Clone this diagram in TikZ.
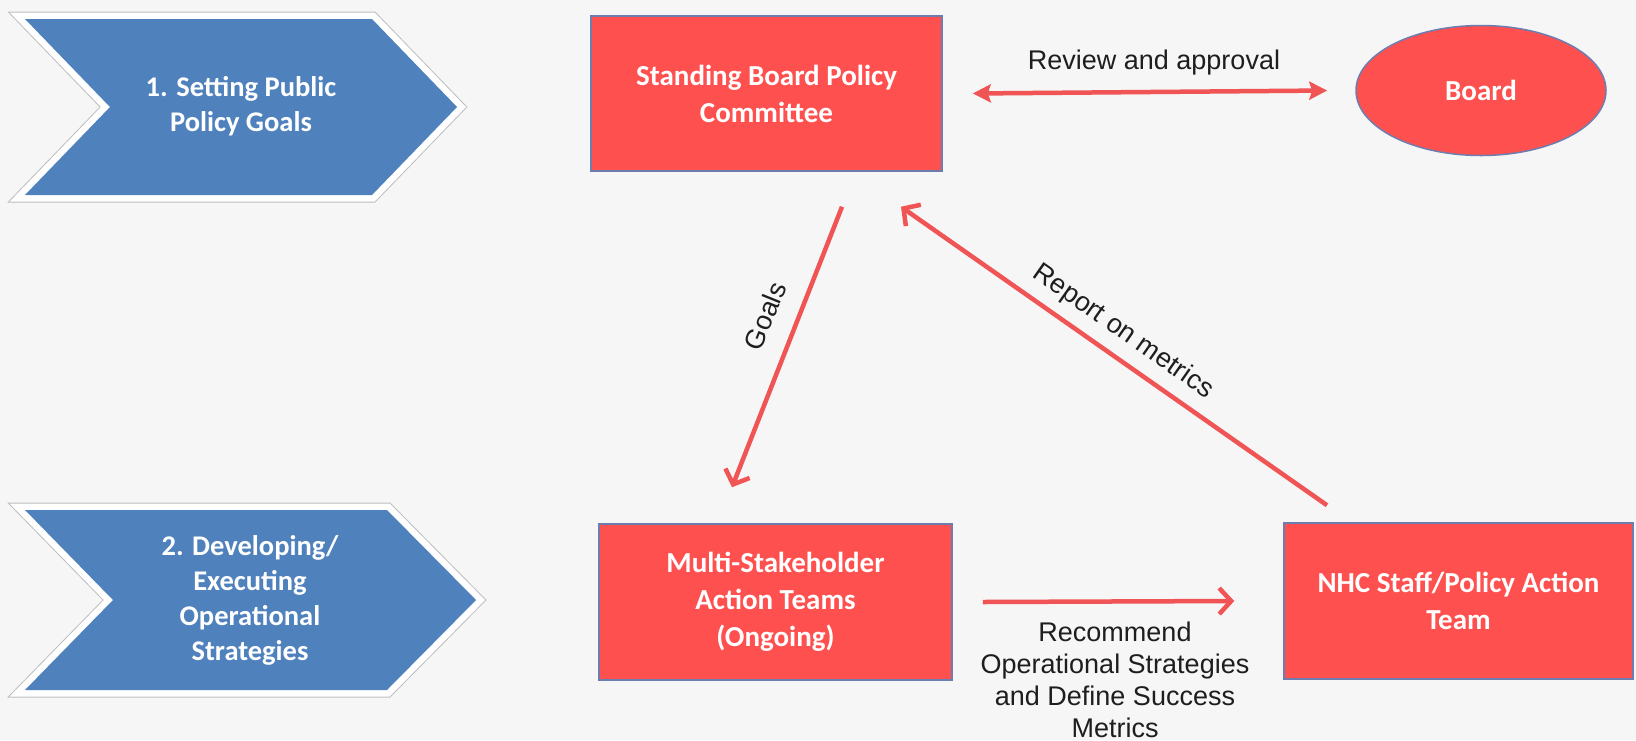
\documentclass[tikz,border=0pt]{standalone}
\usepackage{fontspec}
\setmainfont{Liberation Sans}
\newfontfamily\boxfont{Carlito}
\usetikzlibrary{arrows.meta,shapes.geometric}
\definecolor{bg}{RGB}{246,246,246}
\definecolor{chevblue}{RGB}{79,129,189}
\definecolor{boxred}{RGB}{255,80,80}
\definecolor{boxline}{RGB}{110,125,175}
\definecolor{arrowred}{RGB}{240,84,84}
\definecolor{labelgray}{RGB}{30,30,30}
\definecolor{chevrim}{RGB}{190,190,190}
\begin{document}
\begin{tikzpicture}[x=1pt,y=-1pt,
  redbox/.style={rectangle, fill=boxred, draw=boxline, line width=1.5pt, text=white, align=center, inner sep=0pt, font=\boxfont\bfseries\fontsize{29}{37}\selectfont},
  chevtext/.style={text=white, align=center, font=\boxfont\bfseries\fontsize{28.5}{35}\selectfont},
  lbl/.style={text=labelgray, align=center, font=\fontsize{27}{32}\selectfont},
  conn/.style={draw=arrowred, line width=4.5pt},
  barb/.style={conn, -{Straight Barb[length=12pt,width=26pt,line width=4.5pt]}},
  twoway/.style={conn, {Stealth[length=18pt,width=18pt,inset=3pt]}-{Stealth[length=18pt,width=18pt,inset=3pt]}},
  chevrimouter/.style={draw=chevrim, line width=15pt, line join=miter},
  chevriminner/.style={draw=white, line width=13pt, line join=miter},
  chevfill/.style={fill=chevblue}
]
\useasboundingbox (0,0) rectangle (1636,740);
\fill[bg] (0,0) rectangle (1636,740);

% chevrons
\draw[chevrimouter] (25,19) -- (372,19) -- (457,107) -- (372,195) -- (25,195) -- (110,107) -- cycle;
\draw[chevriminner] (25,19) -- (372,19) -- (457,107) -- (372,195) -- (25,195) -- (110,107) -- cycle;
\fill[chevfill] (25,19) -- (372,19) -- (457,107) -- (372,195) -- (25,195) -- (110,107) -- cycle;
\node[chevtext] (step1) at (241,106) {1. Setting Public\\Policy Goals};

\draw[chevrimouter] (25,510) -- (387,510) -- (476,600) -- (387,690) -- (25,690) -- (113,600) -- cycle;
\draw[chevriminner] (25,510) -- (387,510) -- (476,600) -- (387,690) -- (25,690) -- (113,600) -- cycle;
\fill[chevfill] (25,510) -- (387,510) -- (476,600) -- (387,690) -- (25,690) -- (113,600) -- cycle;
\node[chevtext] (step2) at (250,600) {2. Developing/\\Executing\\Operational\\Strategies};

% boxes
\node[redbox, minimum width=351pt, minimum height=155pt] (sbpc) at (766.5,93.5) {Standing Board Policy\\Committee};
\node[redbox, minimum width=353pt, minimum height=156pt] (mat) at (775.5,602) {Multi-Stakeholder\\Action Teams\\(Ongoing)};
\node[redbox, minimum width=349pt, minimum height=156pt] (nhc) at (1458.5,601) {NHC Staff/Policy Action\\Team};
\node[redbox, ellipse, minimum width=250pt, minimum height=130pt] (board) at (1481,90.5) {Board};

% connectors
\draw[twoway] ([xshift=30pt]sbpc.east) -- ([xshift=-28pt]board.west);
\draw[barb] ([xshift=75.5pt,yshift=-35pt]sbpc.south) -- ([xshift=-43.5pt,yshift=36pt]mat.north);
\draw[barb] ([xshift=-131.5pt,yshift=17pt]nhc.north) -- ([xshift=134.5pt,yshift=-35pt]sbpc.south);
\draw[barb] ([xshift=30pt]mat.east) -- ([xshift=-49pt]nhc.west);

% labels
\node[lbl] (lreview) at (1154,63) {Review and approval};
\node[lbl, rotate=68] (lgoals) at (765,316) {Goals};
\node[lbl, rotate=-35] (lreport) at (1123,332) {Report on metrics};
\node[lbl] (lrecommend) at (1115,680) {Recommend\\Operational Strategies\\and Define Success\\Metrics};
\end{tikzpicture}
\end{document}
